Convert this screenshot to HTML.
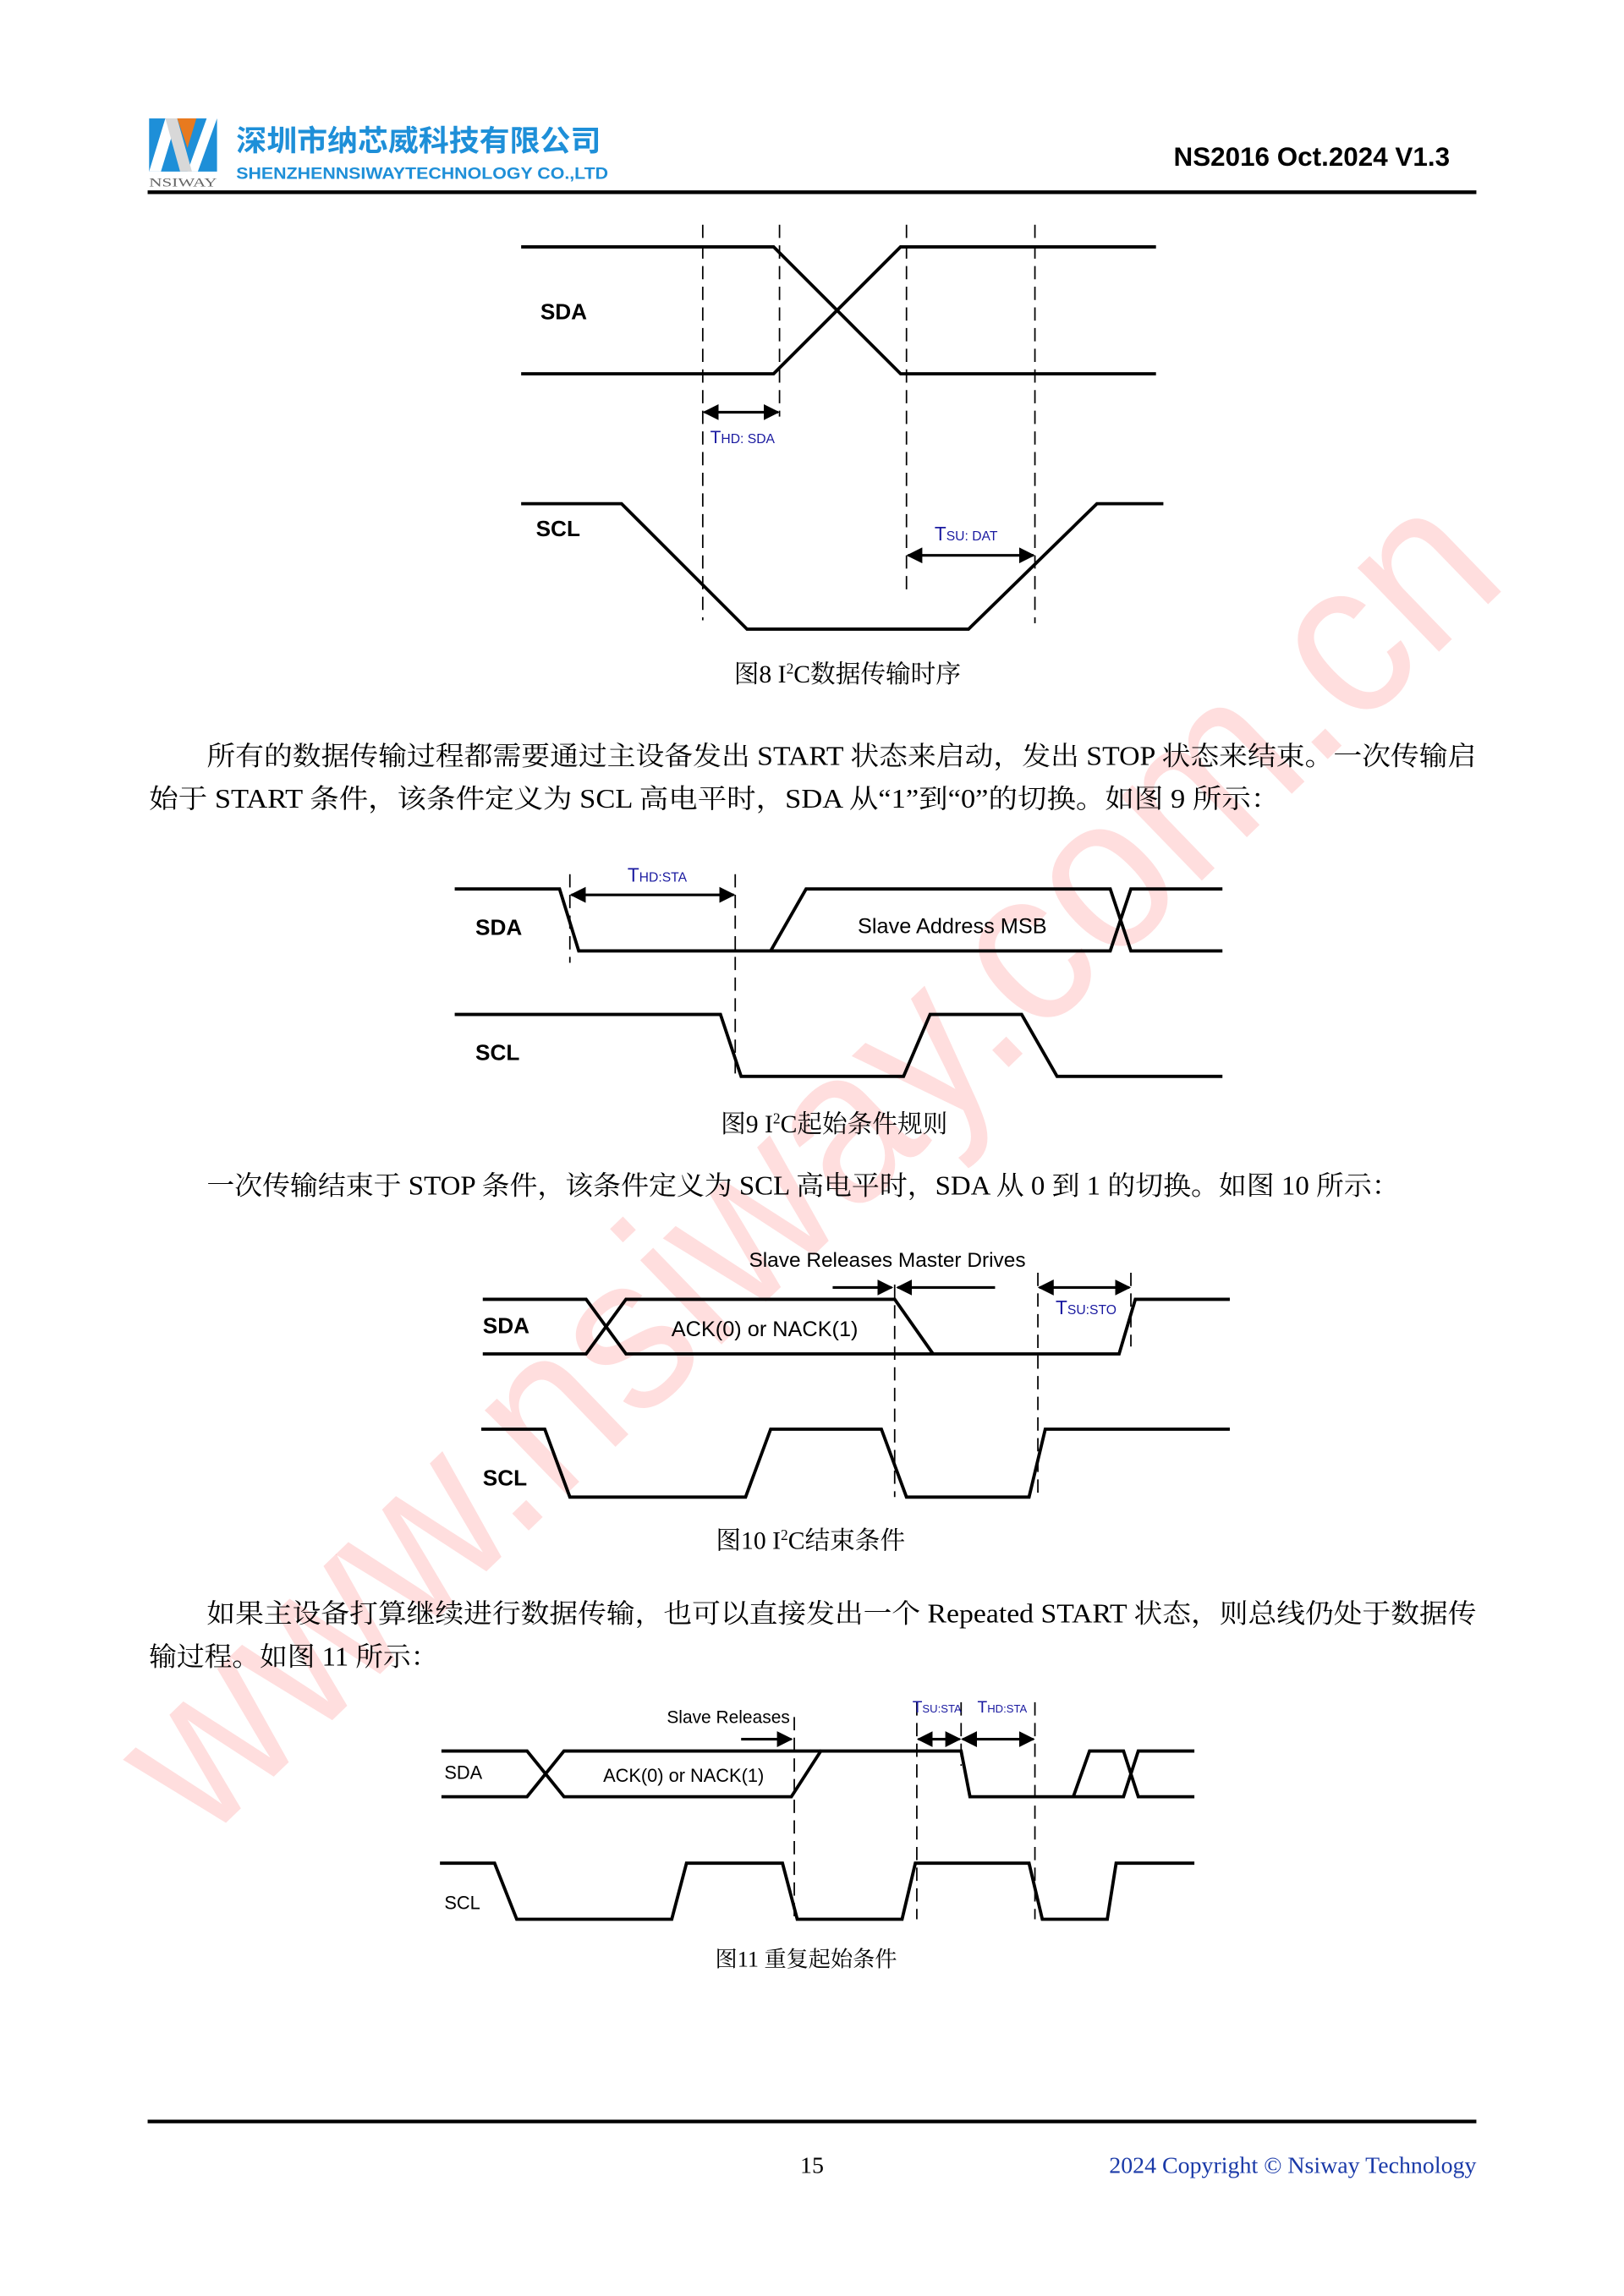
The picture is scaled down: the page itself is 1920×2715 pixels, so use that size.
<!DOCTYPE html>
<html><head><meta charset="utf-8"><style>
html,body{margin:0;padding:0;background:#fff}
svg{display:block}
.b{font-family:"Liberation Sans","Noto Sans CJK SC",sans-serif;font-weight:bold}
.s{font-family:"Liberation Sans","Noto Sans CJK SC",sans-serif}
.sf{font-family:"Liberation Serif","Noto Serif CJK SC",serif}
.w{fill:none;stroke:#000;stroke-width:2.2}
.d{fill:none;stroke:#000;stroke-width:1;stroke-dasharray:9,5}
.a{fill:none;stroke:#000;stroke-width:1.8}
</style></head><body>
<svg width="1920" height="2715" viewBox="0 0 1100 1555" xmlns="http://www.w3.org/2000/svg">
<defs>
<marker id="ah" viewBox="0 0 10 10" refX="9" refY="5" markerWidth="6" markerHeight="6" orient="auto-start-reverse"><path d="M0,0 L10,5 L0,10 z" fill="#000"/></marker>
</defs>
<!-- watermark -->
<text x="560" y="830" font-size="150" class="s" fill="#ff0000" fill-opacity="0.13" text-anchor="middle" transform="rotate(-44 560 800)" textLength="1230" lengthAdjust="spacingAndGlyphs">www.nsiway.com.cn</text>

<!-- header -->
<rect x="101" y="80" width="46" height="36" fill="#1e8fd8"/>
<polygon points="101,116 112,80 120,80 109,116" fill="#fff"/>
<polygon points="120,80 133,80 127,100" fill="#e87a1f"/>
<polygon points="127,116 140,80 147,80 134,116" fill="#fff"/>
<polygon points="112,80 120,80 130,116 122,116" fill="#d8d8d8"/>
<text x="101" y="126" font-size="8.5" class="sf" fill="#666" textLength="46" lengthAdjust="spacingAndGlyphs">NSIWAY</text>
<text x="160" y="102" font-size="20" class="b" fill="#1e8fd8" textLength="247" lengthAdjust="spacingAndGlyphs">深圳市纳芯威科技有限公司</text>
<text x="160" y="121" font-size="11" class="b" fill="#1e8fd8" textLength="252" lengthAdjust="spacingAndGlyphs">SHENZHENNSIWAYTECHNOLOGY CO.,LTD</text>
<text x="982" y="112" font-size="18" class="b" fill="#000" text-anchor="end">NS2016 Oct.2024 V1.3</text>
<line x1="100" y1="130" x2="1000" y2="130" stroke="#000" stroke-width="2.5"/>

<!-- Fig 8 -->
<polyline class="w" points="353,167 524,167 610,253 783,253"/>
<polyline class="w" points="353,253 524,253 610,167 783,167"/>
<line class="d" x1="476" y1="152" x2="476" y2="420"/>
<line class="d" x1="528" y1="152" x2="528" y2="282"/>
<line class="d" x1="614" y1="152" x2="614" y2="400"/>
<line class="d" x1="701" y1="152" x2="701" y2="422"/>
<line class="a" x1="477" y1="279" x2="527" y2="279" marker-start="url(#ah)" marker-end="url(#ah)"/>
<text x="481" y="300" font-size="9" class="s" fill="#1a1aa0"><tspan font-size="12">T</tspan>HD: SDA</text>
<polyline class="w" points="353,341 421,341 506,426 656,426 743,341 788,341"/>
<line class="a" x1="615" y1="376" x2="700" y2="376" marker-start="url(#ah)" marker-end="url(#ah)"/>
<text x="633" y="366" font-size="9" class="s" fill="#1a1aa0"><tspan font-size="13">T</tspan>SU: DAT</text>
<text x="366" y="216" font-size="15" class="b">SDA</text>
<text x="363" y="363" font-size="15" class="b">SCL</text>
<text x="574" y="462" font-size="17" class="sf" text-anchor="middle">图8 I<tspan font-size="10" dy="-6">2</tspan><tspan dy="6">C数据传输时序</tspan></text>

<!-- paragraph 1 -->
<text x="140" y="518" font-size="18" class="sf" textLength="860" lengthAdjust="spacingAndGlyphs">所有的数据传输过程都需要通过主设备发出 START 状态来启动，发出 STOP 状态来结束。一次传输启</text>
<text x="101" y="547" font-size="18" class="sf" textLength="766" lengthAdjust="spacingAndGlyphs">始于 START 条件，该条件定义为 SCL 高电平时，SDA 从“1”到“0”的切换。如图 9 所示：</text>

<!-- Fig 9 -->
<polyline class="w" points="308,602 379,602 392,644 752,644 766,602 828,602"/>
<polyline class="w" points="522,644 546,602 752,602 766,644 828,644"/>
<line class="d" x1="386" y1="592" x2="386" y2="652"/>
<line class="d" x1="498" y1="592" x2="498" y2="728"/>
<line class="a" x1="387" y1="606" x2="497" y2="606" marker-start="url(#ah)" marker-end="url(#ah)"/>
<text x="425" y="597" font-size="9" class="s" fill="#1a1aa0"><tspan font-size="13">T</tspan>HD:STA</text>
<polyline class="w" points="308,687 488,687 502,729 612,729 630,687 692,687 716,729 828,729"/>
<text x="322" y="633" font-size="15" class="b">SDA</text>
<text x="322" y="718" font-size="15" class="b">SCL</text>
<text x="645" y="632" font-size="14.5" class="s" text-anchor="middle">Slave Address MSB</text>
<text x="565" y="767" font-size="17" class="sf" text-anchor="middle">图9 I<tspan font-size="10" dy="-6">2</tspan><tspan dy="6">C起始条件规则</tspan></text>

<!-- paragraph 2 -->
<text x="140" y="809" font-size="18" class="sf" textLength="808" lengthAdjust="spacingAndGlyphs">一次传输结束于 STOP 条件，该条件定义为 SCL 高电平时，SDA 从 0 到 1 的切换。如图 10 所示：</text>

<!-- Fig 10 -->
<polyline class="w" points="327,880 397,880 424,917 758,917 769,880 833,880"/>
<polyline class="w" points="327,917 397,917 424,880 606,880 632,917"/>
<line class="d" x1="606" y1="870" x2="606" y2="1014"/>
<line class="d" x1="703" y1="862" x2="703" y2="1014"/>
<line class="d" x1="766" y1="862" x2="766" y2="912"/>
<line class="a" x1="564" y1="872" x2="604" y2="872" marker-end="url(#ah)"/>
<line class="a" x1="674" y1="872" x2="608" y2="872" marker-end="url(#ah)"/>
<line class="a" x1="704" y1="872" x2="765" y2="872" marker-start="url(#ah)" marker-end="url(#ah)"/>
<text x="715" y="890" font-size="9" class="s" fill="#1a1aa0"><tspan font-size="13">T</tspan>SU:STO</text>
<text x="601" y="858" font-size="14" class="s" text-anchor="middle">Slave Releases  Master Drives</text>
<polyline class="w" points="326,968 369,968 386,1014 505,1014 522,968 597,968 614,1014 697,1014 708,968 833,968"/>
<text x="327" y="903" font-size="15" class="b">SDA</text>
<text x="327" y="1006" font-size="15" class="b">SCL</text>
<text x="518" y="905" font-size="14.5" class="s" text-anchor="middle">ACK(0) or NACK(1)</text>
<text x="549" y="1049" font-size="17" class="sf" text-anchor="middle">图10 I<tspan font-size="10" dy="-6">2</tspan><tspan dy="6">C结束条件</tspan></text>

<!-- paragraph 3 -->
<text x="140" y="1099" font-size="18" class="sf" textLength="860" lengthAdjust="spacingAndGlyphs">如果主设备打算继续进行数据传输，也可以直接发出一个 Repeated START 状态，则总线仍处于数据传</text>
<text x="101" y="1128" font-size="18" class="sf" textLength="196" lengthAdjust="spacingAndGlyphs">输过程。如图 11 所示：</text>

<!-- Fig 11 -->
<polyline class="w" points="299,1186 357,1186 382,1217 536,1217 556,1186 651,1186 657,1217 761,1217 771,1186 809,1186"/>
<polyline class="w" points="299,1217 357,1217 382,1186 556,1186"/>
<polyline class="w" points="727,1217 738,1186 761,1186 771,1217 809,1217"/>
<line class="d" x1="538" y1="1163" x2="538" y2="1300"/>
<line class="d" x1="621" y1="1153" x2="621" y2="1300"/>
<line class="d" x1="651" y1="1153" x2="651" y2="1196"/>
<line class="d" x1="701" y1="1153" x2="701" y2="1300"/>
<line class="a" x1="502" y1="1178" x2="536" y2="1178" marker-end="url(#ah)"/>
<line class="a" x1="622" y1="1178" x2="650" y2="1178" marker-start="url(#ah)" marker-end="url(#ah)"/>
<line class="a" x1="652" y1="1178" x2="700" y2="1178" marker-start="url(#ah)" marker-end="url(#ah)"/>
<text x="535" y="1167" font-size="12" class="s" text-anchor="end">Slave Releases</text>
<text x="618" y="1160" font-size="7.5" class="s" fill="#1a1aa0"><tspan font-size="11">T</tspan>SU:STA</text>
<text x="662" y="1160" font-size="7.5" class="s" fill="#1a1aa0"><tspan font-size="11">T</tspan>HD:STA</text>
<polyline class="w" points="298,1262 335,1262 350,1300 455,1300 465,1262 530,1262 540,1300 611,1300 620,1262 697,1262 706,1300 750,1300 756,1262 809,1262"/>
<text x="301" y="1205" font-size="12.5" class="s">SDA</text>
<text x="301" y="1293" font-size="12.5" class="s">SCL</text>
<text x="463" y="1207" font-size="12.5" class="s" text-anchor="middle">ACK(0) or NACK(1)</text>
<text x="546" y="1332" font-size="15" class="sf" text-anchor="middle">图11 重复起始条件</text>

<!-- footer -->
<line x1="100" y1="1437" x2="1000" y2="1437" stroke="#000" stroke-width="2.5"/>
<text x="550" y="1472" font-size="16" class="sf" text-anchor="middle">15</text>
<text x="1000" y="1472" font-size="16" class="sf" fill="#1a3aa8" text-anchor="end">2024 Copyright © Nsiway Technology</text>
</svg>
</body></html>
